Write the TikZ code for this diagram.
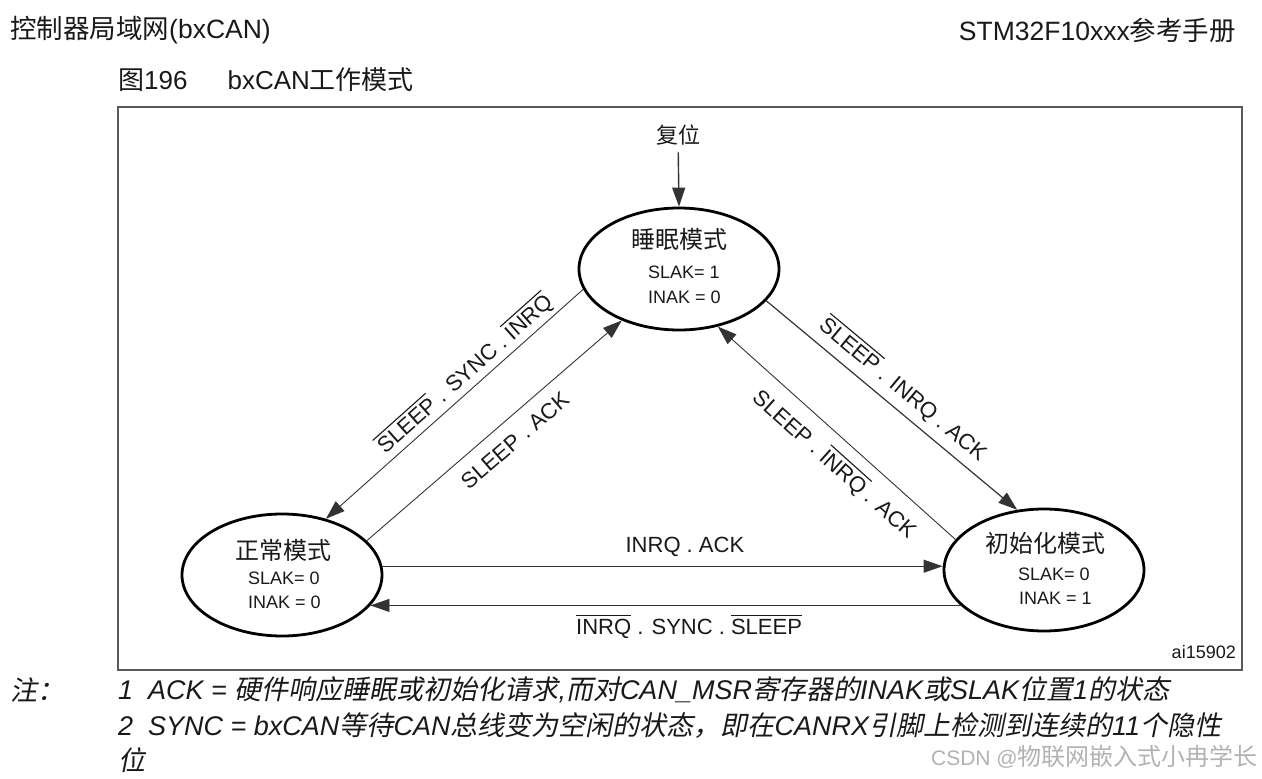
\documentclass[tikz,border=0pt]{standalone}
\usepackage{fontspec}
\setmainfont{Liberation Sans}
\newfontfamily\cjk{Noto Sans CJK SC}
\newfontfamily\cjkit[FakeSlant=0.2]{Noto Sans CJK SC}
\usetikzlibrary{arrows.meta,shapes.geometric}
\newcommand\ovl[1]{\leavevmode\setbox0\hbox{#1}\rlap{\rule[0.84em]{\wd0}{0.05em}}\box0\relax}
\newcommand\zi[1]{{\cjkit #1}}
\newcommand\zh[1]{{\cjk #1}}
\tikzset{
  state/.style={ellipse, draw=black, line width=2.8pt, minimum width=200pt, minimum height=122pt, inner sep=0pt},
  conn/.style={draw=black!80, line width=0.9pt, -{Triangle[length=19pt,width=13pt]}},
  lbl/.style={font=\fontsize{22}{26}\selectfont, inner sep=0pt, sloped, text=black!90},
  val/.style={font=\fontsize{18}{22}\selectfont, anchor=west, inner sep=0pt, text=black!90},
  ttl/.style={font=\cjk\fontsize{24}{28}\selectfont, inner sep=0pt, text=black!90},
  hdr/.style={font=\fontsize{26.5}{30}\selectfont, inner sep=0pt, text=black!90},
  note/.style={font=\itshape\fontsize{27}{31}\selectfont, inner sep=0pt, anchor=west, text=black!90}
}
\begin{document}
\begin{tikzpicture}[x=1pt,y=-1pt]
\useasboundingbox (0,0) rectangle (1262,779);
% header
\node[hdr, anchor=west] (h1) at (10,30) {\zh{控制器局域网}(bxCAN)};
\node[hdr, anchor=east] (h2) at (1236,30) {STM32F10xxx\zh{参考手册}};
\node[font=\fontsize{26}{30}\selectfont, inner sep=0pt, anchor=west, text=black!90] (fig) at (118,80) {\zh{图}196\hspace{40pt}bxCAN\zh{工作模式}};
% frame
\draw[line width=2pt, black!65] (118,107) rectangle (1242,670);
% states
\node[state] (sleep) at (679,269) {};
\node[state] (normal) at (282,575) {};
\node[state] (init) at (1044,570) {};
\node[ttl] (sleepT) at (679,239) {睡眠模式};
\node[val] (sleepS) at (648,272) {SLAK= 1};
\node[val] (sleepI) at (648,297) {INAK = 0};
\node[ttl] (normalT) at (283,550) {正常模式};
\node[val] (normalS) at (248,578) {SLAK= 0};
\node[val] (normalI) at (248,602) {INAK = 0};
\node[ttl] (initT) at (1045,543) {初始化模式};
\node[val] (initS) at (1018,574) {SLAK= 0};
\node[val] (initI) at (1019,598) {INAK = 1};
% reset
\node[font=\cjk\fontsize{22}{26}\selectfont, inner xsep=0pt, inner ysep=7pt, text=black!90] (reset) at (678,135) {复位};
\draw[conn, line width=1.4pt] (reset) -- (sleep.north);
% transitions
\draw[conn] (sleep.192) -- (normal.52.5)
  node[lbl, pos=0.42, yshift=16pt] {\ovl{SLEEP} . SYNC . \ovl{INRQ}};
\draw[conn] (normal.22.9) -- (sleep.222.5)
  node[lbl, pos=0.527, yshift=-21pt] {SLEEP . ACK};
\draw[conn, line width=1.2pt] (sleep.340.6) -- (init.114.2)
  node[lbl, pos=0.496, yshift=20pt] {\ovl{SLEEP} . INRQ . ACK};
\draw[conn] (init.161) -- (sleep.304.8)
  node[lbl, pos=0.44, yshift=-24pt] {SLEEP . \ovl{INRQ} . ACK};
\draw[conn] (normal.5.8) -- (normal.5.8 -| init.west)
  node[lbl, pos=0.54, yshift=19pt] {INRQ . ACK};
\draw[conn] (init.203.1) -- (init.203.1 -| normal.341.1)
  node[lbl, pos=0.46, yshift=-21pt] {\ovl{INRQ} . SYNC . \ovl{SLEEP}};
\node[font=\fontsize{18}{22}\selectfont, anchor=east, inner sep=0pt, text=black!90] (ai) at (1236,652) {ai15902};
% notes
\node[note] (zhu) at (10,690) {\zi{注：}};
\node[note] (n1) at (118,690) {1\ \ ACK = \zi{硬件响应睡眠或初始化请求},\zi{而对}CAN\_MSR\zi{寄存器的}INAK\zi{或}SLAK\zi{位置}1\zi{的状态}};
\node[note] (n2) at (118,725) {2\ \ SYNC = bxCAN\zi{等待}CAN\zi{总线变为空闲的状态，即在}CANRX\zi{引脚上检测到连续的}11\zi{个隐性}};
\node[note] (n3) at (118,760) {\zi{位}};
\node[font=\fontsize{21}{25}\selectfont, anchor=east, inner sep=0pt, text=black!30] (wm) at (1258,757) {CSDN @\zh{\fontsize{24}{28}\selectfont 物联网嵌入式小冉学长}};
\end{tikzpicture}
\end{document}
